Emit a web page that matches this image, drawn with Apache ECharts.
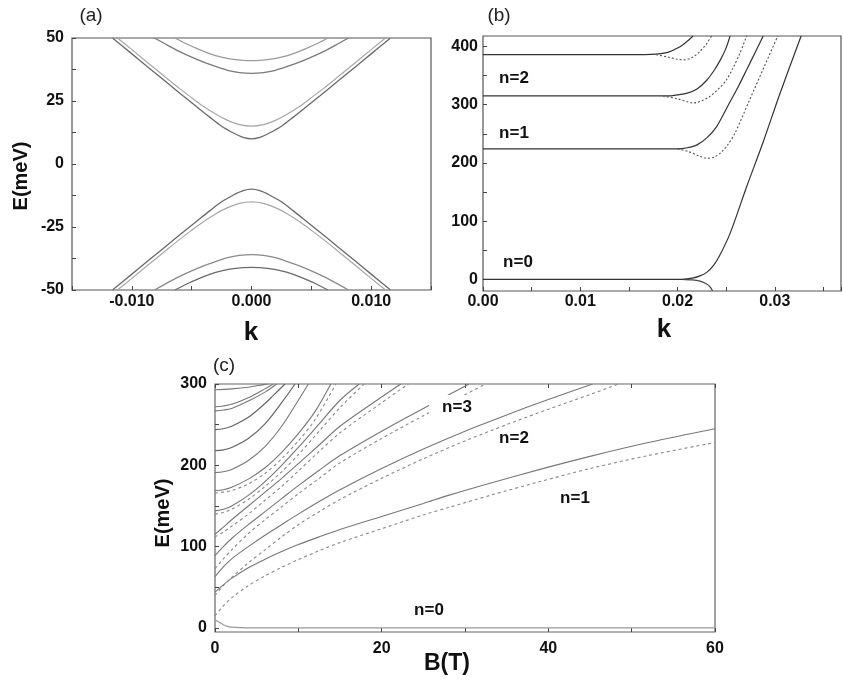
<!DOCTYPE html>
<html>
<head>
<meta charset="utf-8">
<script src="https://cdn.jsdelivr.net/npm/echarts@6/dist/echarts.min.js"></script>
<style>html,body{margin:0;padding:0;background:#fff;}#c{width:843px;height:682px;}</style>
</head>
<body>
<div id="c"></div>
<script>
// ---------- Panel (a): E(k) bands ----------
const kA  = [-0.0116,-0.0100,-0.0088,-0.0072,-0.0057,-0.0045,-0.0035,-0.0025,-0.0015,-0.0007,0,0.0007,0.0015,0.0025,0.0035,0.0045,0.0057,0.0072,0.0088,0.0100,0.0116];
const eA  = [49.9,43.7,39.0,32.8,27.0,22.4,18.6,15.0,12.3,10.6,10.0,10.6,12.3,15.0,18.6,22.4,27.0,32.8,39.0,43.7,49.9];
const eAv = [-49.9,-43.7,-39.0,-32.8,-27.0,-22.4,-18.6,-15.0,-12.3,-10.6,-10.0,-10.6,-12.3,-15.0,-18.6,-22.4,-27.0,-32.8,-39.0,-43.7,-49.9];
const kB  = [-0.0112,-0.0100,-0.0088,-0.0072,-0.0060,-0.0050,-0.0040,-0.0030,-0.0020,-0.0010,0,0.0010,0.0020,0.0030,0.0040,0.0050,0.0060,0.0072,0.0088,0.0100,0.0112];
const eB  = [50.0,45.4,40.7,34.5,29.9,26.3,22.8,19.8,17.3,15.6,15.0,15.6,17.3,19.8,22.8,26.3,29.9,34.5,40.7,45.4,50.0];
const eBv = [-50.0,-45.4,-40.7,-34.5,-29.9,-26.3,-22.8,-19.8,-17.3,-15.6,-15.0,-15.6,-17.3,-19.8,-22.8,-26.3,-29.9,-34.5,-40.7,-45.4,-50.0];
const kC  = [-0.0081,-0.0070,-0.0060,-0.0050,-0.0040,-0.0030,-0.0020,-0.0010,0,0.0010,0.0020,0.0030,0.0040,0.0050,0.0060,0.0070,0.0081];
const eC  = [50.0,47.1,44.6,42.4,40.4,38.7,37.2,36.3,36.0,36.3,37.2,38.7,40.4,42.4,44.6,47.1,50.0];
const eCv = [-50.0,-47.1,-44.6,-42.4,-40.4,-38.7,-37.2,-36.3,-36.0,-36.3,-37.2,-38.7,-40.4,-42.4,-44.6,-47.1,-50.0];
const kD  = [-0.0064,-0.0055,-0.0045,-0.0035,-0.0025,-0.0015,-0.0007,0,0.0007,0.0015,0.0025,0.0035,0.0045,0.0055,0.0064];
const eD  = [50.0,47.8,45.7,43.8,42.4,41.5,41.1,41.0,41.1,41.5,42.4,43.8,45.7,47.8,50.0];
const eDv = [-50.0,-47.8,-45.7,-43.8,-42.4,-41.5,-41.1,-41.0,-41.1,-41.5,-42.4,-43.8,-45.7,-47.8,-50.0];

// ---------- Panel (b): levels vs k ----------
const bN3sK = [0,0.0150,0.0178,0.0190,0.0202,0.0210,0.0216];
const bN3sE = [386,386,387,390,399,409,418];
const bN3dK = [0.0178,0.0190,0.0200,0.0206,0.0214,0.0222,0.0229,0.0235];
const bN3dE = [386,382,378,377,380,390,403,418];
const bN2sK = [0,0.0150,0.0190,0.0200,0.0210,0.0220,0.0230,0.0238,0.0245,0.0250,0.0254];
const bN2sE = [315,315,315,317,320,327,342,360,380,398,418];
const bN2dK = [0.0185,0.0200,0.0210,0.0216,0.0224,0.0233,0.0242,0.0250,0.0257,0.0264,0.0271];
const bN2dE = [315,310,305,303,306,314,327,342,363,388,418];
const bN1sK = [0,0.0160,0.0200,0.0210,0.0220,0.0230,0.0240,0.0253,0.0263,0.0271,0.0281,0.0288];
const bN1sE = [224,224,224,226,231,243,262,302,333,360,394,418];
const bN1dK = [0.0200,0.0212,0.0222,0.0230,0.0238,0.0246,0.0252,0.0259,0.0274,0.0289,0.0303];
const bN1dE = [224,219,212,208,210,220,232,251,308,365,418];
const bN0sK = [0,0.0170,0.0205,0.0215,0.0223,0.0230,0.0237,0.0243,0.0254,0.0271,0.0288,0.0305,0.0327];
const bN0sE = [0,0,0,2,6,12,24,40,79,159,236,318,418];
const bN0dK = [0.0205,0.0215,0.0223,0.0229,0.0233,0.0236];
const bN0dE = [0,-1,-3,-7,-12,-20];

// ---------- Panel (c): levels vs B ----------
const cN1B  = [0,1,2,4,6,8,10,12.5,15,20,25,28,33,39,45,52,60];
const cN1sE = [44,53,61,74,84.5,94,102.5,112,121,137,153,163,178,195,211,228,245];
const cN1dE = [15,27,37,52,64,74.5,84,95,105,122,139,148,163,180,196,212,228];
const cN2sB = [0,1,2,4,6,8,10,12.5,15,20,25,30,35,40,45.3];
const cN2sE = [63,75,85,100,114,127,140,155.5,170,196,220,242,262,281,300];
const cN2dB = [0,1,2,4,6,8,10,12.5,15,20,25,30,35,40,45,48.4];
const cN2dE = [40,52,62,80,96,112,127,143,158,184,208,230,250,269,287,300];
const cN3sB = [0,1,2,4,6,8,10,12.5,15,20,25,30.5];
const cN3sE = [89,100,110,127,143,159,175,194,212,242,270,300];
const cN3dB = [0,1,2,4,6,8,10,12.5,15,20,25,30,32.5];
const cN3dE = [73,85,96,116,133,149,165,184,203,233,261,287,300];
const cN4sB = [0,1,2,4,6,8,10,12.5,15,20,22.3];
const cN4sE = [115,124,133,150,167,184,202,225,248,284,300];
const cN4dB = [0,1,2,4,6,8,10,12.5,15,20,23.2];
const cN4dE = [112,118,125,140,157,174,193,217,240,277,300];
const cN5sB = [0,1,2,4,6,8,10,12.5,15,17.3];
const cN5sE = [144,146,150,163,180,200,222,251,280,300];
const cN5dB = [0,1,2,4,6,8,10,12.5,15,17.9];
const cN5dE = [140,142,146,158,174,192,213,242,271,300];
const cN6sB = [0,1,2,4,6,8,10,12,13.9];
const cN6sE = [169,170,173,183,197,216,239,266,300];
const cN6dB = [0,1,2,4,6,8,10,12,14.5];
const cN6dE = [166,167,169,177,190,208,230,256,300];
const cN7B  = [0,1,2,4,6,8,10,11.2];
const cN7E  = [191,192,195,206,223,248,280,300];
const cU1B  = [0,1,2,4,6,8,9.6];
const cU1E  = [218,219,222,233,251,277,300];
const cU2B  = [0,1,2,4,6,7,8.4];
const cU2E  = [244,245,248,259,276,286,300];
const cU3B  = [0,1,2,4,6,7.4];
const cU3E  = [267,268,270,279,290,300];
const cU4B  = [0,1,2,4,6,7.0];
const cU4E  = [272,273,275,283,294,300];
const cU5B  = [0,2,4,6,6.4];
const cU5E  = [293,294,296,299.5,300];
const cN0B  = [0,0.5,1,1.5,2,3,5,60];
const cN0E  = [10,7,4,2,1,0.3,0,0];

// tick values
const bYTicks  = [0,50,100,150,200,250,300,350,400];
const bYLabels = [0,100,200,300,400];
const cYTicks  = [0,50,100,150,200,250,300];
const cYLabels = [0,100,200,300];

const FONT = "'Liberation Sans', Arial, sans-serif";

function zip(xs, ys){ return xs.map((x,i)=>[x, ys[i]]); }
function line(xs, ys, xi, yi, color, width, type){
  return {type:'line', xAxisIndex:xi, yAxisIndex:yi, data:zip(xs,ys),
    showSymbol:false, symbol:'none', smooth:0.3,
    lineStyle:{color:color, width:width, type:type||'solid'}, silent:true, z:3};
}

const series = [
  // panel a
  line(kA,eA,0,0,'#6a6a6a',1.3), line(kB,eB,0,0,'#a8a8a8',1.2),
  line(kC,eC,0,0,'#7a7a7a',1.3), line(kD,eD,0,0,'#9a9a9a',1.2),
  line(kA,eAv,0,0,'#6a6a6a',1.3), line(kB,eBv,0,0,'#a8a8a8',1.2),
  line(kC,eCv,0,0,'#8a8a8a',1.3), line(kD,eDv,0,0,'#6a6a6a',1.2),
  // panel b
  line(bN3sK,bN3sE,1,1,'#333',1.2), line(bN3dK,bN3dE,1,1,'#555',1.1,[2,2]),
  line(bN2sK,bN2sE,1,1,'#333',1.2), line(bN2dK,bN2dE,1,1,'#555',1.1,[2,2]),
  line(bN1sK,bN1sE,1,1,'#333',1.2), line(bN1dK,bN1dE,1,1,'#555',1.1,[2,2]),
  line(bN0sK,bN0sE,1,1,'#333',1.2), line(bN0dK,bN0dE,1,1,'#444',1.2),
  // panel c
  line(cN1B,cN1sE,2,2,'#777',1.1), line(cN1B,cN1dE,2,2,'#888',1.1,[3,3]),
  line(cN2sB,cN2sE,2,2,'#777',1.1), line(cN2dB,cN2dE,2,2,'#888',1.1,[3,3]),
  line(cN3sB,cN3sE,2,2,'#777',1.1), line(cN3dB,cN3dE,2,2,'#888',1.1,[3,3]),
  line(cN4sB,cN4sE,2,2,'#777',1.1), line(cN4dB,cN4dE,2,2,'#888',1.1,[3,3]),
  line(cN5sB,cN5sE,2,2,'#777',1.1), line(cN5dB,cN5dE,2,2,'#888',1.1,[3,3]),
  line(cN6sB,cN6sE,2,2,'#777',1.1), line(cN6dB,cN6dE,2,2,'#888',1.1,[3,3]),
  line(cN7B,cN7E,2,2,'#777',1.1),
  line(cU1B,cU1E,2,2,'#666',1.2), line(cU2B,cU2E,2,2,'#666',1.2),
  line(cU3B,cU3E,2,2,'#777',1.1), line(cU4B,cU4E,2,2,'#777',1.1),
  line(cU5B,cU5E,2,2,'#777',1.1),
  line(cN0B,cN0E,2,2,'#999',1.2)
];

const tickStyle = {inside:true, length:4, lineStyle:{color:'#444', width:1}};
const noLine = {show:false, onZero:false};
const lab = (extra)=>Object.assign({fontFamily:FONT, fontSize:16, fontWeight:'bold', color:'#111'}, extra);

const option = {
  animation:false,
  backgroundColor:'#fff',
  grid:[
    {left:72, top:38, width:359, height:252, show:true, borderColor:'#555', borderWidth:1.2, containLabel:false, outerBoundsMode:'none'},
    {left:483, top:36, width:358, height:255, show:true, borderColor:'#555', borderWidth:1.2, containLabel:false, outerBoundsMode:'none'},
    {left:215, top:384, width:500, height:248, show:true, borderColor:'#666', borderWidth:1.2, containLabel:false, outerBoundsMode:'none'}
  ],
  xAxis:[
    {gridIndex:0, type:'value', position:'bottom', min:-0.015, max:0.015, interval:0.005,
     axisLine:noLine, axisTick:tickStyle, splitLine:{show:false},
     axisLabel:lab({margin:4, formatter:v=>{const m=Math.round(v*1000); return (m%10===0 && Math.abs(m)<=10)?(m/1000).toFixed(3):'';}})},
    {gridIndex:1, type:'value', position:'bottom', min:0, max:0.0368, interval:0.005,
     axisLine:noLine, axisTick:tickStyle, splitLine:{show:false},
     axisLabel:lab({margin:3, formatter:v=>{const m=Math.round(v*1000); return (m%10===0 && m<=30)?(m/1000).toFixed(2):'';}})},
    {gridIndex:2, type:'value', position:'bottom', min:0, max:60, interval:10,
     axisLine:noLine, axisTick:tickStyle, splitLine:{show:false},
     axisLabel:lab({margin:9, formatter:v=>(Math.round(v)%20===0)?String(Math.round(v)):''})},
    {gridIndex:2, type:'value', position:'top', min:0, max:60, interval:10,
     axisLine:noLine, axisTick:tickStyle, splitLine:{show:false}, axisLabel:{show:false}}
  ],
  yAxis:[
    {gridIndex:0, type:'value', position:'left', min:-50, max:50, interval:12.5,
     axisLine:noLine, axisTick:tickStyle, splitLine:{show:false},
     axisLabel:lab({margin:8, formatter:v=>{const m=Math.round(v*10); return (m%250===0)?String(Math.round(v)):'';}})},
    {gridIndex:1, type:'value', position:'left', min:-20, max:418,
     axisLine:noLine, axisTick:Object.assign({customValues:bYTicks}, tickStyle), splitLine:{show:false},
     axisLabel:lab({margin:5, customValues:bYLabels})},
    {gridIndex:2, type:'value', position:'left', min:-5, max:300,
     axisLine:noLine, axisTick:Object.assign({customValues:cYTicks}, tickStyle), splitLine:{show:false},
     axisLabel:lab({margin:8, customValues:cYLabels})}
  ],
  graphic:[
    {type:'text', x:91, y:16, z:100, style:{text:'(a)', font:"19px "+FONT, fill:'#222', align:'center', verticalAlign:'middle'}},
    {type:'text', x:499, y:16, z:100, style:{text:'(b)', font:"19px "+FONT, fill:'#222', align:'center', verticalAlign:'middle'}},
    {type:'text', x:224, y:366, z:100, style:{text:'(c)', font:"19px "+FONT, fill:'#222', align:'center', verticalAlign:'middle'}},
    {type:'text', x:21, y:176, rotation:Math.PI/2, z:100, style:{text:'E(meV)', font:"bold 20px "+FONT, fill:'#111', align:'center', verticalAlign:'middle'}},
    {type:'text', x:163, y:513, rotation:Math.PI/2, z:100, style:{text:'E(meV)', font:"bold 20px "+FONT, fill:'#111', align:'center', verticalAlign:'middle'}},
    {type:'text', x:251, y:333, z:100, style:{text:'k', font:"bold 26px "+FONT, fill:'#111', align:'center', verticalAlign:'middle'}},
    {type:'text', x:664, y:330, z:100, style:{text:'k', font:"bold 26px "+FONT, fill:'#111', align:'center', verticalAlign:'middle'}},
    {type:'text', x:447, y:664, z:100, style:{text:'B(T)', font:"bold 23px "+FONT, fill:'#111', align:'center', verticalAlign:'middle'}},
    {type:'text', x:514, y:78, z:100, style:{text:'n=2', font:"bold 17px "+FONT, fill:'#111', align:'center', verticalAlign:'middle'}},
    {type:'text', x:514, y:133, z:100, style:{text:'n=1', font:"bold 17px "+FONT, fill:'#111', align:'center', verticalAlign:'middle'}},
    {type:'text', x:518, y:262, z:100, style:{text:'n=0', font:"bold 17px "+FONT, fill:'#111', align:'center', verticalAlign:'middle'}},
    {type:'rect', z:90, shape:{x:429, y:395, width:55, height:24}, style:{fill:'#fff'}},
    {type:'text', x:457, y:407, z:100, style:{text:'n=3', font:"bold 17px "+FONT, fill:'#111', align:'center', verticalAlign:'middle'}},
    {type:'text', x:514, y:438, z:100, style:{text:'n=2', font:"bold 17px "+FONT, fill:'#111', align:'center', verticalAlign:'middle'}},
    {type:'text', x:575, y:498, z:100, style:{text:'n=1', font:"bold 17px "+FONT, fill:'#111', align:'center', verticalAlign:'middle'}},
    {type:'text', x:429, y:610, z:100, style:{text:'n=0', font:"bold 17px "+FONT, fill:'#111', align:'center', verticalAlign:'middle'}}
  ],
  series: series
};

const chart = echarts.init(document.getElementById('c'), null, {renderer:'canvas', width:843, height:682});
chart.setOption(option);
</script>
</body>
</html>
